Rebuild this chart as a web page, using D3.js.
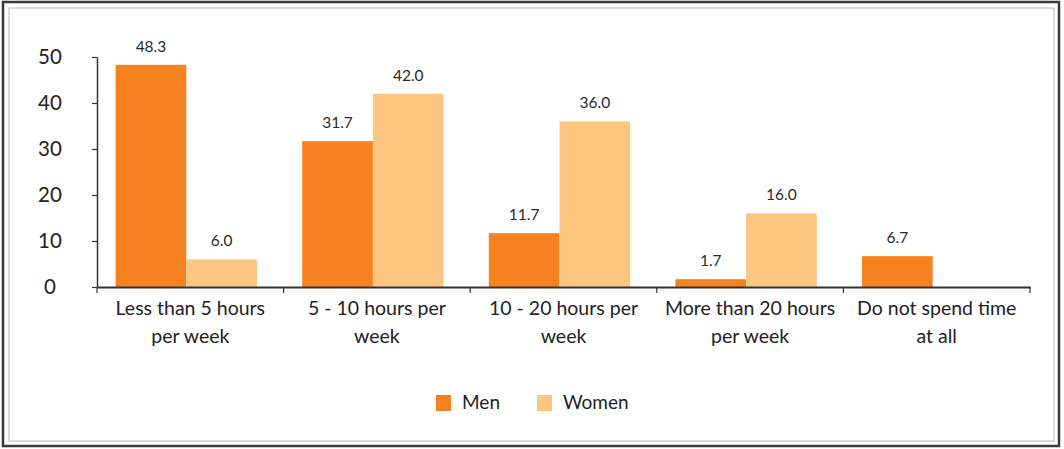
<!DOCTYPE html>
<html>
<head>
<meta charset="utf-8">
<script src="https://cdn.jsdelivr.net/npm/d3@7"></script>
<style>
  html, body { margin: 0; padding: 0; background: #fff; }
  svg { display: block; font-family: Lato, "Open Sans", sans-serif; }
</style>
</head>
<body>
<svg id="chart" width="1064" height="449"></svg>
<script>
// ---- data ----
const categories = ["Less than 5 hours per week", "5 - 10 hours per week", "10 - 20 hours per week", "More than 20 hours per week", "Do not spend time at all"];
const categoryLines = [["Less than 5 hours", "per week"], ["5 - 10 hours per", "week"], ["10 - 20 hours per", "week"], ["More than 20 hours", "per week"], ["Do not spend time", "at all"]];
const seriesNames = ["Men", "Women"];
const menValues = [48.3, 31.7, 11.7, 1.7, 6.7];
const womenValues = [6.0, 42.0, 36.0, 16.0, null];
const yTicks = [0, 10, 20, 30, 40, 50];
const colors = { Men: "#f5821f", Women: "#fcc680" };

const rows = categories.map((c, i) => ({ cat: c, Men: menValues[i], Women: womenValues[i] }));

const svg = d3.select("#chart");

// frame
svg.append("rect").attr("x", 3).attr("y", 2).attr("width", 1056).attr("height", 444)
  .attr("fill", "#fff").attr("stroke", "#3a3a3a").attr("stroke-width", 2.5);
svg.append("rect").attr("x", 9).attr("y", 8).attr("width", 1045).attr("height", 433)
  .attr("fill", "none").attr("stroke", "#b8b8b8").attr("stroke-width", 1);

const x = d3.scaleBand().domain(categories).range([97, 1030]).paddingInner(0).paddingOuter(0);
const x1 = d3.scaleBand().domain(seriesNames).range([0, x.bandwidth()]).paddingInner(0).paddingOuter(0.32);
const y = d3.scaleLinear().domain([0, 50]).range([287, 57]);

// bars
const g = svg.append("g");
const groups = g.selectAll("g.grp").data(rows).join("g").attr("class", "grp")
  .attr("transform", d => `translate(${x(d.cat) - 4},0)`);

const cells = groups.selectAll("g.cell")
  .data(d => seriesNames.filter(s => d[s] != null).map(s => ({ s, v: d[s] })))
  .join("g").attr("class", "cell");

cells.append("rect")
  .attr("x", d => x1(d.s))
  .attr("width", x1.bandwidth())
  .attr("y", d => y(d.v))
  .attr("height", d => y(0) - y(d.v))
  .attr("fill", d => colors[d.s]);

cells.append("text")
  .attr("x", d => x1(d.s) + x1.bandwidth() / 2)
  .attr("y", d => y(d.v) - 13)
  .attr("text-anchor", "middle")
  .attr("font-size", 15.5)
  .attr("fill", "#2a2a2a")
  .text(d => d.v.toFixed(1));

// y axis
const yAxis = svg.append("g").attr("transform", "translate(97,0)")
  .call(d3.axisLeft(y).tickValues(yTicks).tickSize(5).tickSizeOuter(0).tickFormat(d3.format("d")));
yAxis.select(".domain").attr("stroke", "#333").attr("stroke-width", 1.5);
yAxis.selectAll(".tick line").attr("stroke", "#333").attr("stroke-width", 1.2);
yAxis.selectAll(".tick text").attr("x", -47).attr("text-anchor", "middle")
  .attr("font-size", 20.5).attr("fill", "#222").attr("font-family", "Lato, sans-serif");

// x axis
const xAxis = svg.append("g").attr("transform", "translate(0,287)")
  .call(d3.axisBottom(x).tickSize(0).tickSizeOuter(0).tickPadding(0));
xAxis.select(".domain").attr("stroke", "#333").attr("stroke-width", 2);
xAxis.selectAll(".tick text").each(function(d, i) {
  const t = d3.select(this).text(null).attr("y", 0).attr("dy", null)
    .attr("font-size", 19.5).attr("fill", "#222").attr("font-family", "Lato, sans-serif");
  categoryLines[i].forEach((ln, k) => {
    t.append("tspan").attr("x", 0).attr("y", 28 + k * 28).text(ln);
  });
});
// boundary ticks
const bounds = categories.map(c => x(c)).concat([x.range()[1]]);
xAxis.selectAll("line.bnd").data(bounds).join("line").attr("class", "bnd")
  .attr("x1", d => d).attr("x2", d => d).attr("y1", 0).attr("y2", 6)
  .attr("stroke", "#333").attr("stroke-width", 1.2);

// legend
const legend = svg.append("g");
const legX = [436, 537];
const leg = legend.selectAll("g").data(seriesNames).join("g")
  .attr("transform", (d, i) => `translate(${legX[i]},395)`);
leg.append("rect").attr("width", 15).attr("height", 16).attr("fill", d => colors[d]);
leg.append("text").attr("x", 26).attr("y", 14).attr("font-size", 19).attr("fill", "#222").text(d => d);
</script>
</body>
</html>
